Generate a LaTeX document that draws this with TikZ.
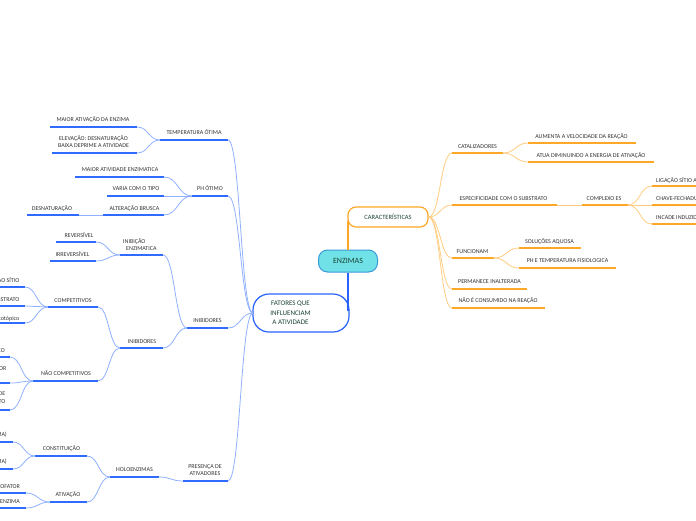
\documentclass[tikz,border=0pt]{standalone}
\usepackage{fontspec}
\setmainfont{Carlito}
\usetikzlibrary{calc}
\definecolor{ub}{HTML}{2F6BFF}
\definecolor{cb}{HTML}{8FB0FF}
\definecolor{uo}{HTML}{FFA726}
\definecolor{co}{HTML}{FFCC80}
\definecolor{txt}{HTML}{333333}
\definecolor{dg}{HTML}{1B4332}
\definecolor{ef}{HTML}{70E2E7}
\definecolor{eb}{HTML}{3A9AD9}
\definecolor{stemblue}{HTML}{2962FF}
\tikzset{
 lbl/.style={inner sep=0pt, font=\fontsize{6}{7.5}\selectfont, text=txt},
 bul/.style={draw=ub, line width=1.8pt},
 bcn/.style={draw=cb, line width=0.8pt},
 oul/.style={draw=uo, line width=1.8pt},
 ocn/.style={draw=co, line width=0.8pt},
 bstem/.style={color=stemblue, line width=2pt},
 ostem/.style={color=uo, line width=2pt},
 scurve/.style={to path={.. controls ($(\tikztostart)!0.5!(\tikztostart-|\tikztotarget)$) and ($(\tikztotarget)!0.5!(\tikztotarget-|\tikztostart)$) .. (\tikztotarget)}},
}
% name, x1, x2, y, style, label x, label y, text
\newcommand\tpc[8]{\coordinate (#1L) at (#2,#4); \coordinate (#1R) at (#3,#4); \draw[#5] (#1L) -- (#1R); \node[lbl,anchor=base] (#1) at (#6,#7+2) {#8};}
\newcommand\tpcm[8]{\coordinate (#1L) at (#2,#4); \coordinate (#1R) at (#3,#4); \draw[#5] (#1L) -- (#1R); \node[lbl,align=center,anchor=center] (#1) at (#6,#7) {#8};}
% left-edge leaf: name, x2, y, text end x, label y, text
\newcommand\tpe[6]{\coordinate (#1L) at (-80,#3); \coordinate (#1R) at (#2,#3); \draw[bul] (#1L) -- (#1R); \node[lbl,anchor=base east] (#1) at (#4,#5+2) {#6};}
% right-edge leaf: name, x1, y, text start x, label y, text
\newcommand\tpw[6]{\coordinate (#1L) at (#2,#3); \coordinate (#1R) at (780,#3); \draw[oul] (#1L) -- (#1R); \node[lbl,anchor=base west] (#1) at (#4,#5+2) {#6};}
\begin{document}
\begin{tikzpicture}[x=1pt,y=-1pt]
\useasboundingbox (0,0) rectangle (696,520);
\begin{scope}
\clip (0,0) rectangle (696,520);

% central nodes
\node[draw=stemblue, fill=white, line width=1.2pt, rounded corners=16pt, minimum width=96pt, minimum height=38pt, inner sep=0pt] (fatbox) at (301,313) {};
\node[font=\fontsize{7}{9.3}\selectfont, text=dg, align=center, inner sep=0pt] (fat) at (290.5,313) {FATORES QUE\\INFLUENCIAM\\A ATIVIDADE};
\node[draw=uo, fill=white, line width=1.2pt, rounded corners=8pt, minimum width=80pt, minimum height=20pt, inner sep=0pt, font=\fontsize{6.5}{8}\selectfont, text=dg] (car) at (388,217) {CARACTERÍSTICAS};
\node[draw=eb, fill=ef, line width=1pt, rounded corners=9pt, minimum width=59pt, minimum height=22pt, inner sep=0pt, font=\fontsize{8}{9}\selectfont, text=dg] (enz) at (348,261) {ENZIMAS};
\coordinate (stemT) at (348,221);
\coordinate (stemB) at (348,311);
\draw[bstem] (enz.south) -- (stemB);
\draw[ostem] (enz.north) -- (stemT);
\coordinate (fatW) at (253,313);

% left side
\tpc{ta}{160}{228}{140}{bul}{194}{132}{TEMPERATURA ÓTIMA}
\tpc{taa}{50}{137}{127}{bul}{93}{119}{MAIOR ATIVAÇÃO DA ENZIMA}
\tpcm{tab}{52}{137}{153}{bul}{93.5}{141.5}{ELEVAÇÃO: DESNATURAÇÃO\\BAIXA DEPRIME A ATIVIDADE}
\tpc{tb}{192}{228}{196}{bul}{210}{188}{PH ÓTIMO}
\tpc{tba}{75}{164}{177}{bul}{120}{169.5}{MAIOR ATIVIDADE ENZIMATICA}
\tpc{tbb}{107}{164}{196}{bul}{136}{188}{VARIA COM O TIPO}
\tpc{tbc}{103}{164}{215}{bul}{134.5}{208}{ALTERAÇÃO BRUSCA}
\tpc{tbd}{27}{79}{215}{bul}{52}{208}{DESNATURAÇÃO}
\tpc{tc}{187}{228}{328}{bul}{207.5}{320}{INIBIDORES}
\coordinate (tcaL) at (120,255); \coordinate (tcaR) at (163,255);
\draw[bul] (tcaL) -- (tcaR);
\node[lbl, align=left, anchor=west] (tca) at (123,244.5) {INIBIÇÃO\\\hspace*{3pt}ENZIMATICA};
\tpc{tcaa}{56}{96}{242}{bul}{79}{235}{REVERSÍVEL}
\tpc{tcab}{50}{96}{261}{bul}{72.5}{254}{IRREVERSÍVEL}
\tpc{tcb}{120}{163}{348}{bul}{142}{341}{INIBIDORES}
\tpc{tcba}{48}{98}{307}{bul}{73}{300}{COMPETITIVOS}
\tpe{ka}{25}{287}{19.5}{280}{LIGA-SE AO SÍTIO}
\tpe{kb}{25}{306}{19.5}{299}{ANÁLOGO AO SUBSTRATO}
\tpe{kc}{25}{323}{19.5}{318}{sítio ortotópico}
\tpc{tcbb}{33}{98}{381}{bul}{66}{373.5}{NÃO COMPETITIVOS}
\tpe{na}{10}{357}{5}{350}{SÍTIO ALOSTÉRICO}
\coordinate (nbL) at (-80,383); \coordinate (nbR) at (10,383);
\draw[bul] (nbL) -- (nbR);
\node[lbl, align=center, anchor=east] (nb) at (6.5,372.5) {COMPLEXO ENZIMA-INIBIDOR\\NÃO REAGE};
\coordinate (ncL) at (-80,410); \coordinate (ncR) at (10,410);
\draw[bul] (ncL) -- (ncR);
\node[lbl, align=right, anchor=east] (nc) at (5.5,397.5) {NÃO DEPENDE DE\\CONCENTRAÇÃO DE SUBSTRATO};
\tpcm{td}{183}{228}{481}{bul}{205}{470}{PRESENÇA DE\\ATIVADORES}
\tpc{tda}{110}{159}{477}{bul}{134.5}{469.5}{HOLOENZIMAS}
\tpc{tdaa}{35}{87}{456}{bul}{61.5}{448.5}{CONSTITUIÇÃO}
\tpe{ha}{13}{442}{7}{434.5}{APOENZIMA (PARTE PROTEICA DA ENZIMA)}
\tpe{hb}{13}{469}{7}{461.5}{COFATOR (PARTE NÃO PROTEICA DA ENZIMA)}
\tpc{tdab}{50}{87}{502}{bul}{68}{494.5}{ATIVAÇÃO}
\tpe{hc}{26}{493}{20}{486}{LIGAÇÃO DO COFATOR}
\tpe{hd}{26}{508}{20}{501}{ATIVA A APOENZIMA}

% left connectors
\foreach \c in {ta,tb,tc,td} \draw[bcn] (fatW) to[scurve] (\c R);
\foreach \c in {taa,tab} \draw[bcn] (taL) to[scurve] (\c R);
\foreach \c in {tba,tbb,tbc} \draw[bcn] (tbL) to[scurve] (\c R);
\draw[bcn] (tbcL) -- (tbdR);
\foreach \c in {tca,tcb} \draw[bcn] (tcL) to[scurve] (\c R);
\foreach \c in {tcaa,tcab} \draw[bcn] (tcaL) to[scurve] (\c R);
\foreach \c in {tcba,tcbb} \draw[bcn] (tcbL) to[scurve] (\c R);
\foreach \c in {ka,kb,kc} \draw[bcn] (tcbaL) to[scurve] (\c R);
\foreach \c in {na,nb,nc} \draw[bcn] (tcbbL) to[scurve] (\c R);
\draw[bcn] (tdL) to[scurve] (tdaR);
\foreach \c in {tdaa,tdab} \draw[bcn] (tdaL) to[scurve] (\c R);
\foreach \c in {ha,hb} \draw[bcn] (tdaaL) to[scurve] (\c R);
\foreach \c in {hc,hd} \draw[bcn] (tdabL) to[scurve] (\c R);

% right side
\tpc{ra}{452}{503}{153}{oul}{477.5}{146}{CATALIZADORES}
\tpc{raa}{528}{636}{143}{oul}{581.5}{136}{AUMENTA A VELOCIDADE DA REAÇÃO}
\tpc{rab}{528}{654}{162}{oul}{591}{155}{ATUA DIMINUINDO A ENERGIA DE ATIVAÇÃO}
\tpc{rb}{452}{557}{205}{oul}{503.5}{198}{ESPECIFICIDADE COM O SUBSTRATO}
\tpc{rba}{582}{628}{205}{oul}{604}{198}{COMPLEXO ES}
\tpw{sa}{652}{186}{656}{180}{LIGAÇÃO SÍTIO ATIVO}
\tpw{sb}{652}{205}{656}{198}{CHAVE-FECHADURA}
\tpw{sc}{652}{224}{656}{217}{INCADE INDUZIDO}
\tpc{rc}{452}{494}{258}{oul}{472.5}{251}{FUNCIONAM}
\tpc{rca}{519}{581}{248}{oul}{549.5}{241}{SOLUÇÕES AQUOSA}
\tpc{rcb}{519}{616}{268}{oul}{567.5}{260.5}{PH E TEMPERATURA FISIOLOGICA}
\tpc{rd}{452}{527}{289}{oul}{489.5}{281.5}{PERMANECE INALTERADA}
\tpc{re}{452}{545}{308}{oul}{498}{300.5}{NÃO É CONSUMIDO NA REAÇÃO}

% right connectors
\foreach \c in {ra,rb,rc,rd,re} \draw[ocn] (car.east) to[scurve] (\c L);
\foreach \c in {raa,rab} \draw[ocn] (raR) to[scurve] (\c L);
\draw[ocn] (rbR) -- (rbaL);
\foreach \c in {sa,sb,sc} \draw[ocn] (rbaR) to[scurve] (\c L);
\foreach \c in {rca,rcb} \draw[ocn] (rcR) to[scurve] (\c L);
\end{scope}
\end{tikzpicture}
\end{document}
